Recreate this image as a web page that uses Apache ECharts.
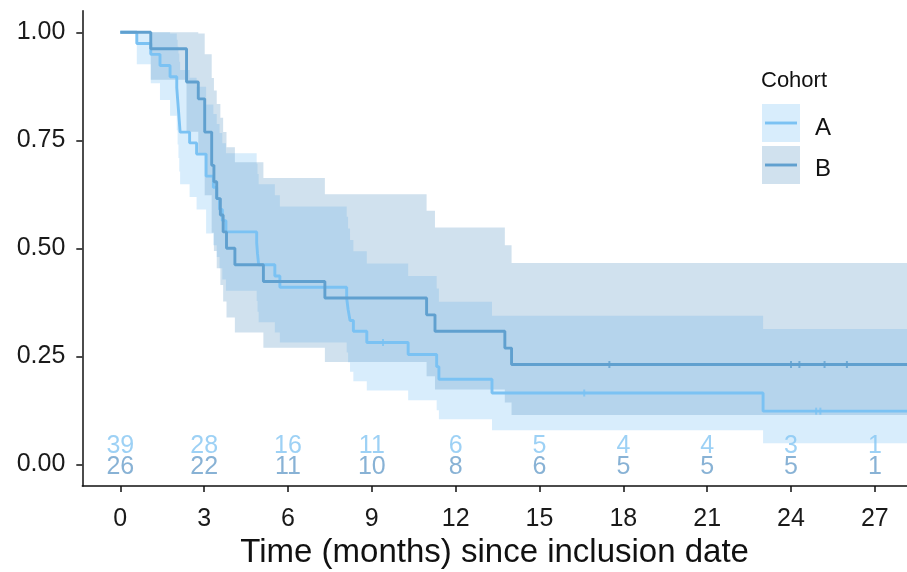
<!DOCTYPE html>
<html>
<head>
<meta charset="utf-8">
<script src="https://cdn.jsdelivr.net/npm/echarts@6/dist/echarts.min.js"></script>
<style>html,body{margin:0;padding:0;background:#fff}#c{width:907px;height:572px}</style>
</head>
<body>
<div id="c"></div>
<script>
// ---- Data ----
const cohortNames = ['A', 'B'];
// Cohort A: event times, survival, lower/upper CI
const tA  = [0, 0.59, 1.09, 1.42, 1.78, 2.02, 2.05, 2.08, 2.11, 2.14, 2.48, 2.73, 3.07, 3.33, 3.45, 3.55, 3.65, 3.78, 4.88, 4.91, 4.95, 5.53, 5.71, 8.10, 8.15, 8.22, 8.34, 8.82, 10.30, 11.32, 11.40, 13.30, 23.00];
const sA  = [1, 0.974, 0.949, 0.923, 0.897, 0.872, 0.846, 0.821, 0.795, 0.769, 0.744, 0.718, 0.667, 0.641, 0.615, 0.590, 0.564, 0.538, 0.513, 0.487, 0.462, 0.436, 0.410, 0.385, 0.359, 0.333, 0.308, 0.282, 0.254, 0.226, 0.197, 0.165, 0.123];
const loA = [1, 0.926, 0.882, 0.843, 0.807, 0.773, 0.740, 0.709, 0.678, 0.648, 0.619, 0.590, 0.534, 0.507, 0.480, 0.454, 0.428, 0.402, 0.378, 0.353, 0.329, 0.305, 0.282, 0.259, 0.236, 0.214, 0.192, 0.171, 0.148, 0.125, 0.104, 0.079, 0.049];
const hiA = [1, 1, 1, 1, 0.997, 0.983, 0.967, 0.951, 0.932, 0.913, 0.895, 0.874, 0.833, 0.811, 0.788, 0.767, 0.743, 0.720, 0.696, 0.672, 0.648, 0.623, 0.597, 0.573, 0.546, 0.519, 0.493, 0.465, 0.436, 0.407, 0.376, 0.344, 0.313];
// Cohort B
const tB  = [0, 1.09, 2.37, 2.79, 3.02, 3.27, 3.35, 3.45, 3.58, 3.68, 3.80, 4.10, 5.12, 7.32, 10.96, 11.26, 13.76, 14.00];
const sB  = [1, 0.962, 0.885, 0.846, 0.769, 0.692, 0.654, 0.615, 0.577, 0.538, 0.500, 0.462, 0.423, 0.385, 0.346, 0.308, 0.269, 0.231];
const loB = [1, 0.890, 0.770, 0.718, 0.623, 0.536, 0.494, 0.454, 0.415, 0.377, 0.340, 0.305, 0.270, 0.237, 0.204, 0.173, 0.143, 0.114];
const hiB = [1, 1, 1, 0.997, 0.949, 0.894, 0.865, 0.834, 0.802, 0.769, 0.734, 0.699, 0.663, 0.625, 0.587, 0.548, 0.507, 0.466];
const followUpEnd = 28.15;
// Censoring marks
const censorTA = [9.4, 16.6, 24.9, 25.05];
const censorSA = [0.282, 0.165, 0.123, 0.123];
const censorTB = [17.5, 24.0, 24.3, 25.2, 26.0];
const censorSB = [0.231, 0.231, 0.231, 0.231, 0.231];
// Number at risk
const riskTimes = [0, 3, 6, 9, 12, 15, 18, 21, 24, 27];
const riskA = [39, 28, 16, 11, 6, 5, 4, 4, 3, 1];
const riskB = [26, 22, 11, 10, 8, 6, 5, 5, 5, 1];
// Ticks
const xTicks = [0, 3, 6, 9, 12, 15, 18, 21, 24, 27];
const yTicks = [0, 0.25, 0.5, 0.75, 1];

// ---- Styles ----
const FONT = '"Liberation Sans", Arial, sans-serif';
const colA = '#7BC2F3', colB = '#60A0CF';
const bandA = 'rgba(127,196,245,0.30)', bandB = 'rgba(98,155,198,0.30)';
const txtA = '#84C5F3', txtB = '#6A9FCB';

function stepLine(t, s) {
  const d = t.map((x, i) => [x, s[i]]);
  d.push([followUpEnd, s[s.length - 1]]);
  return d;
}
function bandSeries(t, lo, hi, color, z) {
  return {
    type: 'custom', z: z, silent: true,
    data: t.map((x, i) => [x, lo[i], hi[i]]),
    encode: { x: 0, y: [1, 2] },
    renderItem: function (params, api) {
      if (params.dataIndex !== 0) return null;
      const up = [], low = [];
      for (let i = 0; i < t.length; i++) {
        const tn = i + 1 < t.length ? t[i + 1] : followUpEnd;
        up.push(api.coord([t[i], hi[i]]), api.coord([tn, hi[i]]));
        low.push(api.coord([t[i], lo[i]]), api.coord([tn, lo[i]]));
      }
      return { type: 'polygon', shape: { points: up.concat(low.reverse()) }, style: { fill: color, stroke: null } };
    }
  };
}
function riskSeries(vals, yv, color) {
  return {
    type: 'scatter', symbolSize: 0, z: 6, silent: true,
    data: riskTimes.map((x, i) => [x, yv, vals[i]]),
    label: { show: true, position: 'inside', formatter: p => String(p.value[2]),
             color: color, fontSize: 25, fontFamily: FONT }
  };
}
function censorSeries(tt, ss, color) {
  return {
    type: 'scatter', symbol: 'rect', symbolSize: [2, 7], z: 5, silent: true,
    itemStyle: { color: color },
    data: tt.map((x, i) => [x, ss[i]])
  };
}

const chart = echarts.init(document.getElementById('c'), null, { renderer: 'canvas' });
chart.setOption({
  animation: false,
  backgroundColor: '#fff',
  grid: { left: 82.3, right: 0, top: 10.7, bottom: 86.1, containLabel: false, outerBoundsMode: 'none' },
  xAxis: {
    type: 'value', min: -1.36, max: followUpEnd,
    name: 'Time (months) since inclusion date', nameLocation: 'middle', nameGap: 49,
    nameTextStyle: { fontSize: 33, color: '#111', fontFamily: FONT },
    axisLine: { show: true, onZero: false, lineStyle: { color: '#111', width: 1.5 } },
    axisTick: { show: true, length: 6, customValues: xTicks, lineStyle: { color: '#111', width: 1.5 } },
    axisLabel: { customValues: xTicks, fontSize: 25, color: '#1a1a1a', fontFamily: FONT, margin: 21 },
    splitLine: { show: false }
  },
  yAxis: {
    type: 'value', min: -0.05, max: 1.05,
    axisLine: { show: true, onZero: false, lineStyle: { color: '#111', width: 1.5 } },
    axisTick: { show: true, length: 6, customValues: yTicks, lineStyle: { color: '#111', width: 1.5 } },
    axisLabel: { customValues: yTicks, fontSize: 25, color: '#1a1a1a', fontFamily: FONT, margin: 17,
                 formatter: v => Number(v).toFixed(2) },
    splitLine: { show: false }
  },
  series: [
    bandSeries(tA, loA, hiA, bandA, 1),
    bandSeries(tB, loB, hiB, bandB, 2),
    { name: cohortNames[0], type: 'line', step: 'end', showSymbol: false, z: 3, silent: true,
      lineStyle: { color: colA, width: 2.9 }, data: stepLine(tA, sA) },
    { name: cohortNames[1], type: 'line', step: 'end', showSymbol: false, z: 4, silent: true,
      lineStyle: { color: colB, width: 2.9 }, data: stepLine(tB, sB) },
    censorSeries(censorTA, censorSA, colA),
    censorSeries(censorTB, censorSB, colB),
    riskSeries(riskA, 0.043, txtA),
    riskSeries(riskB, -0.007, txtB)
  ],
  graphic: [
    { type: 'text', left: 761, top: 70, style: { text: 'Cohort', fontSize: 22, fill: '#111', fontFamily: FONT } },
    { type: 'rect', shape: { x: 762, y: 104, width: 38, height: 38 }, style: { fill: bandA } },
    { type: 'line', shape: { x1: 765, y1: 123, x2: 797, y2: 123 }, style: { stroke: colA, lineWidth: 2.9 } },
    { type: 'text', left: 815, top: 116, style: { text: cohortNames[0], fontSize: 24, fill: '#111', fontFamily: FONT } },
    { type: 'rect', shape: { x: 762, y: 146, width: 38, height: 38 }, style: { fill: bandB } },
    { type: 'line', shape: { x1: 765, y1: 165, x2: 797, y2: 165 }, style: { stroke: colB, lineWidth: 2.9 } },
    { type: 'text', left: 815, top: 157, style: { text: cohortNames[1], fontSize: 24, fill: '#111', fontFamily: FONT } }
  ]
});
</script>
</body>
</html>
